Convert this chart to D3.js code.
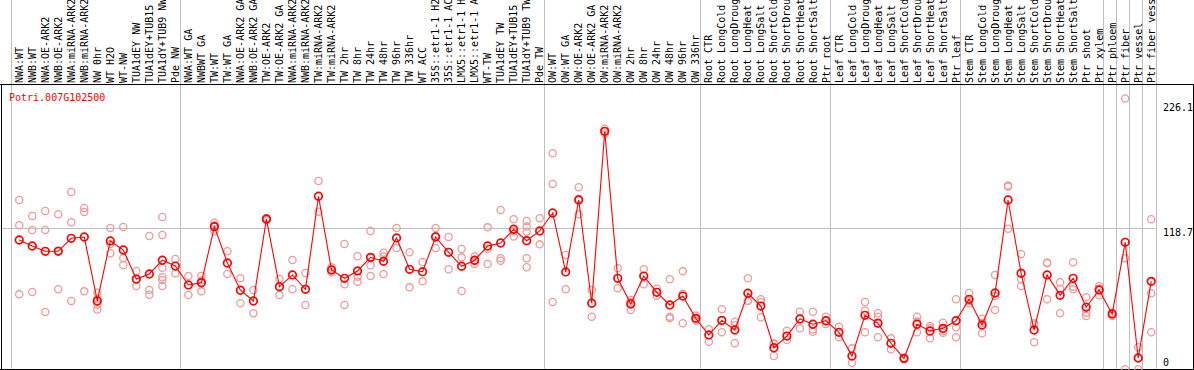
<!DOCTYPE html>
<html><head><meta charset="utf-8">
<script src="https://cdn.jsdelivr.net/npm/d3@7"></script>
<style>
html,body{margin:0;padding:0;background:#fff;}
svg{display:block;}
text{font-family:"DejaVu Sans Mono",monospace;font-size:10px;}
</style></head>
<body>
<svg id="chart" width="1194" height="370"></svg>
<script>
const geneName = "Potri.007G102500";
const categories = [
"NWA:WT","NWB:WT","NWA:OE-ARK2","NWB:OE-ARK2","NWA:miRNA-ARK2","NWB:miRNA-ARK2","NW 0hr","WT H2O","WT-NW","TUA1dEY NW","TUA1dEY+TUB15 NW","TUA1dY+TUB9 NW","Pde NW",
"NWA:WT GA","NWBWT GA","TW:WT","TW:WT GA","NWA:OE-ARK2 GA","NWB:OE-ARK2 GA","TW:OE-ARK2","TW:OE-ARK2 GA","NWA:miRNA-ARK2","NWB:miRNA-ARK2","TW:miRNA-ARK2","TW:miRNA-ARK2","TW 2hr","TW 8hr","TW 24hr","TW 48hr","TW 96hr","TW 336hr","WT ACC","35S::etr1-1 H2O","35S::etr1-1 ACC","LMX5::etr1-1 H2O","LMX5::etr1-1 ACC","WT-TW","TUA1dEY TW","TUA1dEY+TUB15 TW","TUA1dY+TUB9 TW","Pde TW",
"OW:WT","OW:WT GA","OW:OE-ARK2","OW:OE-ARK2 GA","OW:miRNA-ARK2","OW:miRNA-ARK2","OW 2hr","OW 8hr","OW 24hr","OW 48hr","OW 96hr","OW 336hr",
"Root CTR","Root LongCold","Root LongDrought","Root LongHeat","Root LongSalt","Root ShortCold","Root ShortDrought","Root ShortHeat","Root ShortSalt","Ptr root",
"Leaf CTR","Leaf LongCold","Leaf LongDrought","Leaf LongHeat","Leaf LongSalt","Leaf ShortCold","Leaf ShortDrought","Leaf ShortHeat","Leaf ShortSalt","Ptr leaf",
"Stem CTR","Stem LongCold","Stem LongDrought","Stem LongHeat","Stem LongSalt","Stem ShortCold","Stem ShortDrought","Stem ShortHeat","Stem ShortSalt","Ptr shoot","Ptr xylem",
"Ptr phloem","Ptr fiber","Ptr vessel","Ptr fiber vessel"
];
const groupStarts = [0,13,41,53,63,73,84,85,86,87,88];
const means = [
108.7,103.7,99.3,99.3,110.1,111.2,58.1,107.9,100.4,76.3,80.5,91.9,87.1,
71.4,73.3,119.8,89.6,67.0,58.1,126.1,70.0,79.7,67.8,145.0,83.8,76.9,83.0,94.3,91.0,110.4,84.4,82.4,111.2,98.5,86.9,91.9,103.7,106.2,117.6,108.1,116.2,
131.1,82.2,141.9,56.2,198.9,76.9,55.6,78.8,65.3,54.8,62.2,43.7,
29.9,42.0,34.0,64.5,53.9,19.3,29.0,43.2,38.8,41.7,
32.1,12.4,46.2,39.6,23.0,10.5,38.8,33.2,35.4,41.7,
59.5,38.2,64.7,141.9,81.1,34.0,79.7,62.8,76.9,52.9,67.2,
47.3,106.8,10.8,74.4
];
const replicates = [
[141.9,120.9,63.6],[128.6,117,65.6],[132.8,117,49],[130,67.8,100],[148.5,123.4,58.1],[135.3,132,66.1],[65,60,55,51],[118.7,105.4,97.7],[119.5,93.8,87.7],[83,70.5,76],[112,67.2,63.3],[127.8,112.9,85.7,77.8,75.5,70.5],[92.9,81.1],
[78.8,63.1],[78.8,66.1,75],[123,121,116],[99.3,80.5],[76.9,56.2],[67.2,47.9],[127,126,125],[76.3,63.1],[92.1,67.8],[81.3,54.8],[157.7,132.2],[86,84,82],[105.4,71.9,54.8],[95.2,78.3,74.1],[116.2,87.7,78.8],[98.2,95,80.5],[118.7,102],[98.5,69.4],[90.4,74.4],[118.7,102,112],[111.2,84.4],[101.2,94.3,66.4],[95,91,88.7],[119.2,101.5,88.8],[133.6,93.5,91.5],[125.9,111.5,116],[124.5,119.8,115.6,93.5,86.1],[126.7,105.1],
[180.7,155.2,57.3],[96.3,67.8],[152.4,130,143],[67.2,45.1],[201,199,197],[85.2,68.6],[58.9,50.6,57],[84.4,71.9],[68.3,62.5],[76.1,45.1,43.7],[82.7,39.6,64],[46,43.7,42],
[34.6,24.3],[51.2,32.1],[40.9,23,38],[77,58.3,58],[59.5,57,44.6],[22.4,12.4,23],[33.4,25.7],[49.2,35.4],[49.2,34.6,32.6],[45,41.7,39],
[36.8,28],[18.8,6.9],[57.3,50,32.1],[47.9,45.1,28],[27.1,18],[11,10.5,10],[45.1,41,32.1],[37.3,35.5,27.1],[40.1,33.4,31.8],[59.5,36.3,28],
[64.7,56.2,58],[43.4,31.3,40],[79.7,62.2,50.6],[154,153,118],[97.1,76.1,70.5],[39.6,38.6,23.8],[90,89.4,59.5],[73.6,68,47.9],[90.2,70,67.8],[61.2,48.4,45.6],[70.5,68.5,62.8],
[48.4,47.8,45.6],[226.1,93.5,1.4],[19.7,1.4,11],[125.9,64.5,32.1]
];
const axisTicks = [226.1, 118.7, 0];
const gridValues = [118.7];

const svg = d3.select("#chart");
const W = 1194, H = 370;
const plotTop = 84.5, plotBottom = 369.5, plotLeft = 1.5, plotRight = 1193.5;

const x = d3.scaleBand().domain(d3.range(categories.length)).range([10.5, 1155.5]).paddingInner(0).paddingOuter(0);
const px = i => x(i) + x.bandwidth() * 0.67;
const y = d3.scaleLinear().domain([0, d3.max(replicates.flat())]).range([371, 98.5]);

// grid horizontal
svg.selectAll("line.hgrid").data(gridValues).join("line")
  .attr("x1", plotLeft).attr("x2", 1155.5)
  .attr("y1", d => Math.round(y(d)) + 0.5).attr("y2", d => Math.round(y(d)) + 0.5)
  .attr("stroke", "#c0c0c0").attr("stroke-width", 1);

// group separators
svg.selectAll("line.sep").data(groupStarts).join("line")
  .attr("x1", d => Math.round(d < categories.length ? x(d) : x.range()[1]) + 0.5)
  .attr("x2", d => Math.round(d < categories.length ? x(d) : x.range()[1]) + 0.5)
  .attr("y1", 0).attr("y2", H)
  .attr("stroke", "#c0c0c0").attr("stroke-width", 1);

// frame
svg.append("line").attr("x1", 0).attr("x2", W).attr("y1", plotTop).attr("y2", plotTop).attr("stroke", "#000");
svg.append("line").attr("x1", plotLeft).attr("x2", plotLeft).attr("y1", plotTop).attr("y2", plotBottom).attr("stroke", "#000");
svg.append("line").attr("x1", plotRight).attr("x2", plotRight).attr("y1", plotTop).attr("y2", plotBottom).attr("stroke", "#000");
svg.append("line").attr("x1", 0).attr("x2", W).attr("y1", plotBottom).attr("y2", plotBottom).attr("stroke", "#000");

// category labels
svg.selectAll("text.cat").data(categories).join("text")
  .attr("transform", (d, i) => `translate(${px(i)},83) rotate(-90)`)
  .attr("dy", "0.36em")
  .attr("fill", "#000")
  .text(d => d);

// right axis labels
const tickDy = {"226.1": 12.5, "118.7": 8.5, "0": -5};
svg.selectAll("text.tick").data(axisTicks).join("text")
  .attr("x", 1163).attr("y", d => y(d) + tickDy[String(d)])
  .attr("fill", "#000")
  .text(d => String(d));

// gene name
svg.append("text").attr("x", 9).attr("y", 101).attr("fill", "#ff0000").text(geneName);

// replicates
const repPts = replicates.flatMap((arr, i) => arr.map(v => ({i, v})));
svg.selectAll("circle.rep").data(repPts).join("circle")
  .attr("cx", d => px(d.i)).attr("cy", d => y(d.v)).attr("r", 3.6)
  .attr("fill", "none").attr("stroke", "#f09a9a").attr("stroke-width", 1.3);

// mean line
svg.append("path").datum(means)
  .attr("d", d3.line().x((d, i) => px(i)).y(d => y(d)))
  .attr("fill", "none").attr("stroke", "#ff0000").attr("stroke-width", 1.1);

svg.selectAll("circle.mean").data(means).join("circle")
  .attr("cx", (d, i) => px(i)).attr("cy", d => y(d)).attr("r", 3.8)
  .attr("fill", "none").attr("stroke", "#ff0000").attr("stroke-width", 1.7);
</script>
</body></html>
